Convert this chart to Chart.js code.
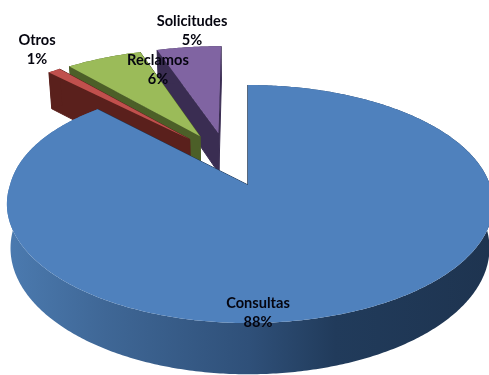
<!DOCTYPE html>
<html>
<head>
<meta charset="utf-8">
<title>Tipos de contacto</title>
<script src="https://cdn.jsdelivr.net/npm/chart.js@4"></script>
<style>
  html, body { margin: 0; padding: 0; background: #fff; }
  canvas { display: block; }
</style>
</head>
<body>
<canvas id="grafico" width="489" height="375"></canvas>
<script>
const categorias = ["Consultas", "Otros", "Reclamos", "Solicitudes"];
const valores = [88, 1, 6, 5];
const colores = ["#4f81bd", "#c0504d", "#9bbb59", "#8064a2"];
const coloresPared = ["#1f3550", "#5a201c", "#4c5f28", "#3a2d52"];

// Proyeccion del disco: el fondo queda mas lejos y se ve mas chico
const CX = 248, CY = 185;
const ESCALA_IZQ = 238, ESCALA_DER = 242, ESCALA_Y = 116;
const PERSPECTIVA = 0.16;
const TORSION = 9;
const ALTO = 43;
const SEPARACION = 0.25;
const CENTRO_U = -0.092, CENTRO_V = 0.2325;

function proyectar(u, v, abajo) {
  const w = 1 + PERSPECTIVA * v;
  let ex = u < 0 ? ESCALA_IZQ : ESCALA_DER;
  if (abajo) ex *= 0.985;
  let x = CX + ex * u / w;
  if (u < 0) x += TORSION * u * Math.max(v, 0);
  return {
    x: x,
    y: CY - ESCALA_Y * v / w + (abajo ? ALTO / w : 0)
  };
}

// Puntos de una porcion a partir de los angulos que calcula Chart.js
function geometria(arco) {
  const ini = arco.startAngle + Math.PI / 2;
  const fin = arco.endAngle + Math.PI / 2;
  const medio = (ini + fin) / 2;
  const ou = CENTRO_U + SEPARACION * Math.sin(medio);
  const ov = CENTRO_V + SEPARACION * Math.cos(medio);
  const borde = [];
  const pasos = Math.max(4, Math.ceil((fin - ini) * 90));
  for (let i = 0; i <= pasos; i++) {
    const a = ini + (fin - ini) * i / pasos;
    borde.push([ou + Math.sin(a), ov + Math.cos(a)]);
  }
  return { ou, ov, borde };
}

function trazar(ctx, puntos) {
  ctx.beginPath();
  puntos.forEach((p, i) => i ? ctx.lineTo(p.x, p.y) : ctx.moveTo(p.x, p.y));
  ctx.closePath();
}

function paredRadial(ctx, ou, ov, p, color) {
  trazar(ctx, [
    proyectar(ou, ov, false), proyectar(p[0], p[1], false),
    proyectar(p[0], p[1], true), proyectar(ou, ov, true)
  ]);
  ctx.fillStyle = color;
  ctx.strokeStyle = color;
  ctx.lineWidth = 1;
  ctx.fill();
  ctx.stroke();
}

const pastel3d = {
  id: "pastel3d",
  beforeDatasetDraw(chart) {
    const ctx = chart.ctx;
    const arcos = chart.getDatasetMeta(0).data;
    ctx.save();
    // de atras hacia adelante
    [3, 2, 1, 0].forEach(i => {
      const { ou, ov, borde } = geometria(arcos[i]);
      const ultimo = borde[borde.length - 1];

      paredRadial(ctx, ou, ov, ultimo, coloresPared[i]);
      paredRadial(ctx, ou, ov, borde[0], coloresPared[i]);

      // pared exterior
      const arriba = borde.map(p => proyectar(p[0], p[1], false));
      const abajo = borde.map(p => proyectar(p[0], p[1], true)).reverse();
      trazar(ctx, arriba.concat(abajo));
      if (i === 0) {
        const grad = ctx.createLinearGradient(9, 0, 489, 0);
        grad.addColorStop(0, "#4b7aaf");
        grad.addColorStop(0.2, "#3f6796");
        grad.addColorStop(0.5, "#2f5079");
        grad.addColorStop(0.68, "#213b5b");
        grad.addColorStop(1, "#1e3450");
        ctx.fillStyle = grad;
      } else {
        ctx.fillStyle = coloresPared[i];
      }
      ctx.fill();

      // cara superior
      trazar(ctx, [proyectar(ou, ov, false)].concat(arriba));
      ctx.fillStyle = colores[i];
      ctx.fill();
    });
    ctx.restore();
    return false;
  },
  afterDraw(chart) {
    const ctx = chart.ctx;
    const lugares = [[258, 303], [37, 40], [158, 60], [192, 21]];
    ctx.save();
    ctx.font = "bold 14.6px Lato";
    ctx.fillStyle = "#05050f";
    ctx.textAlign = "center";
    ctx.textBaseline = "middle";
    categorias.forEach((nombre, i) => {
      ctx.fillText(nombre, lugares[i][0], lugares[i][1]);
      ctx.fillText(valores[i] + "%", lugares[i][0], lugares[i][1] + 19);
    });
    ctx.restore();
  }
};

new Chart(document.getElementById("grafico"), {
  type: "pie",
  data: {
    labels: categorias,
    datasets: [{ data: valores, backgroundColor: colores }]
  },
  options: {
    responsive: false,
    animation: false,
    plugins: { legend: { display: false }, tooltip: { enabled: false } }
  },
  plugins: [pastel3d]
});
</script>
</body>
</html>
